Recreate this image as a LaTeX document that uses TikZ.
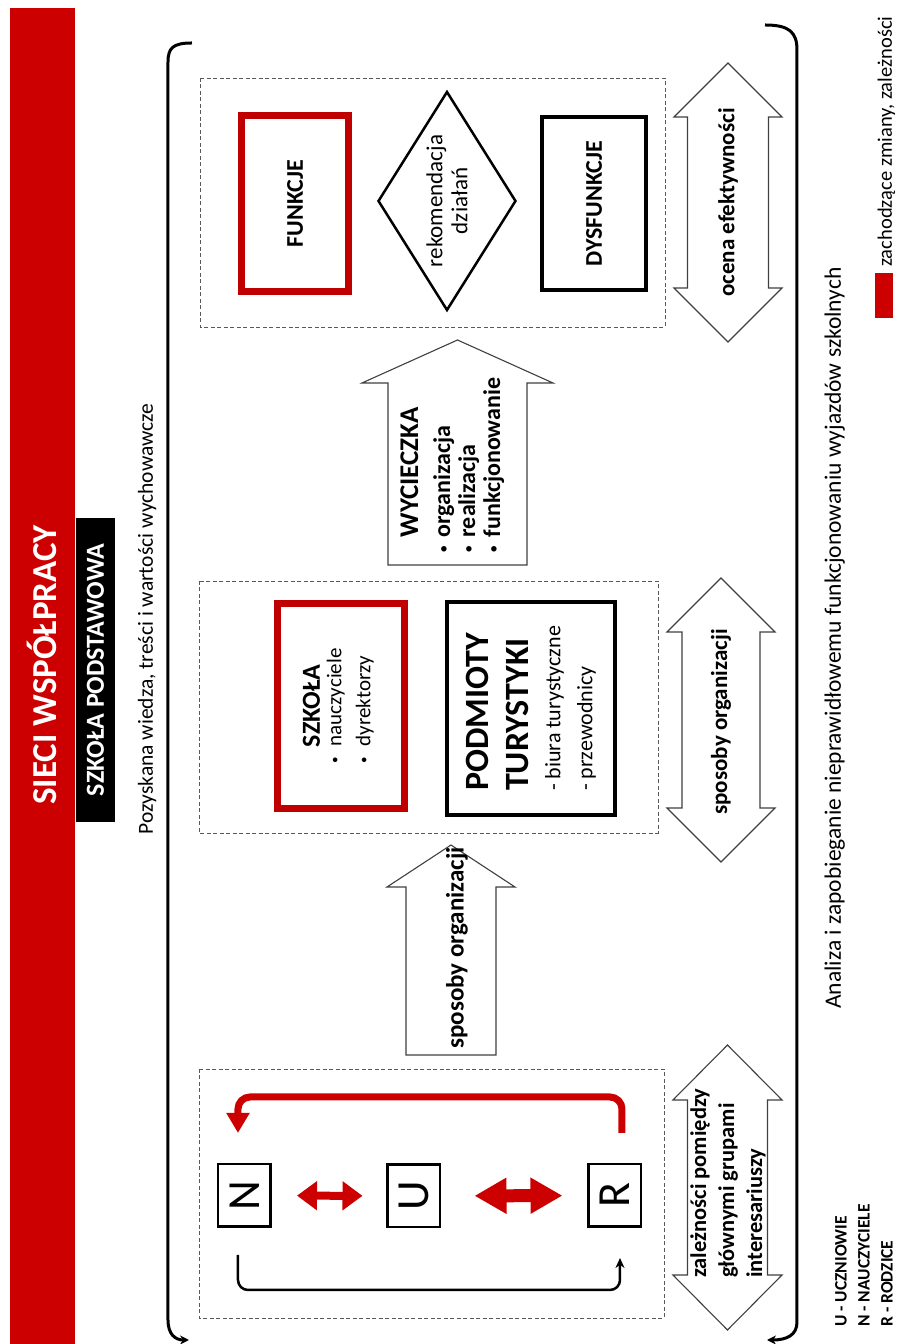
\documentclass[tikz,border=0pt]{standalone}
\usepackage{fontspec}
\setmainfont{Carlito}
\usetikzlibrary{shapes.geometric,arrows.meta}

\definecolor{tred}{RGB}{204,0,0}
\definecolor{dred}{RGB}{192,0,0}

\newcommand{\dotitem}{\raisebox{2.5pt}{\fontsize{13}{13}\selectfont\textbullet}}

\tikzset{
  groupbox/.style={draw=black!65, line width=0.9pt, dash pattern=on 4pt off 2.5pt, inner sep=0},
  redbox/.style={draw=dred, line width=7pt, inner sep=0, align=center},
  blackbox/.style={draw=black, line width=4pt, inner sep=0, align=center},
  letterbox/.style={draw=black, line width=2.5pt, minimum width=62.5, minimum height=52.5, inner sep=0, font=\fontsize{46}{46}\selectfont},
  hollowarrow/.style={draw=black!75, line width=1.1pt, fill=white, line join=miter},
  arrowtext/.style={inner sep=0, font=\fontsize{23}{28}\selectfont\bfseries},
  brace/.style={line width=3pt, -{Stealth[length=9pt,width=9pt]}},
}

\begin{document}
\begin{tikzpicture}[x=1pt, y=1pt, rotate=90, transform shape]
  \useasboundingbox (0,0) rectangle (1344,897);

  % title
  \node[fill=tred, minimum width=1336, minimum height=65, inner sep=0] (bar) at (668,854.5) {};
  \node[text=white, inner sep=0, font=\fontsize{35}{35}\selectfont\bfseries] (title) at (679,855) {SIECI WSPÓŁPRACY};
  \node[fill=black, text=white, minimum width=304, minimum height=39, inner sep=0,
        font=\fontsize{26}{26}\selectfont\bfseries] (school) at (674,801.5) {SZKOŁA PODSTAWOWA};
  \node[anchor=base, inner sep=0, font=\fontsize{21.5}{21.5}\selectfont] (gained) at (725,744)
    {Pozyskana wiedza, treści i wartości wychowawcze};

  % brackets
  \draw[brace] (1301,705) .. controls (1301,724) and (1296,729) .. (1282,729) -- (24,729)
    .. controls (10,729) and (4,722) .. (4,708);
  \draw[brace] (1319,132) .. controls (1319,108) and (1312,100) .. (1294,100) -- (22,100)
    .. controls (9,100) and (4,110) .. (4,130);

  % groups
  \node[groupbox, minimum width=249, minimum height=465] (gRight) at (1141.5,464.5) {};
  \node[groupbox, minimum width=252, minimum height=459] (gMid) at (637,468.5) {};
  \node[groupbox, minimum width=249, minimum height=465] (gLeft) at (150.5,465.5) {};

  % right group
  \node[redbox, minimum width=176, minimum height=107, font=\fontsize{24}{24}\selectfont\bfseries]
    (funkcje) at (1140.5,602) {FUNKCJE};
  \node[diamond, draw, line width=2.5pt, minimum width=219, minimum height=138, aspect=1.57,
        inner sep=0, align=center, font=\fontsize{23}{25}\selectfont] (advice) at (1143,450)
    {rekomendacja\\działań};
  \node[blackbox, minimum width=173, minimum height=104, font=\fontsize{24}{24}\selectfont\bfseries]
    (dysfunkcje) at (1140.5,303) {DYSFUNKCJE};
  \draw[hollowarrow] (1002,169) -- (1056,223) -- (1056,209.5) -- (1227,209.5) -- (1227,223)
    -- (1281,169) -- (1227,115) -- (1227,128.5) -- (1056,128.5) -- (1056,115) -- cycle;
  \node[arrowtext] (evalText) at (1141.5,169) {ocena efektywności};

  % trip arrow
  \draw[hollowarrow] (779,370) -- (961,370) -- (961,344) -- (1004,439.5) -- (961,535)
    -- (961,509) -- (779,509) -- cycle;
  \node[anchor=west, inner sep=0, font=\fontsize{24}{25}\selectfont\bfseries] (tripText) at (791,443)
    {\begin{tabular}{@{}l@{\hspace{9pt}}l@{}}
      & {\fontsize{27}{25}\selectfont WYCIECZKA}\\[7pt]
      \dotitem & organizacja\\
      \dotitem & realizacja\\
      \dotitem & funkcjonowanie
     \end{tabular}};

  % middle group
  \node[redbox, minimum width=205, minimum height=127, font=\fontsize{21}{29}\selectfont]
    (szkola) at (638,556)
    {{\fontsize{26}{29}\selectfont\bfseries SZKOŁA}\\
     \begin{tabular}{@{}l@{\hspace{11pt}}l@{}}
      \dotitem & nauczyciele\\
      \dotitem & dyrektorzy
     \end{tabular}};
  \node[blackbox, minimum width=213, minimum height=168, align=left, font=\fontsize{22}{32}\selectfont]
    (podmioty) at (635.5,366)
    {{\fontsize{34}{40}\selectfont\bfseries PODMIOTY}\\[8pt]
     {\fontsize{34}{40}\selectfont\bfseries TURYSTYKI}\\
     - biura turystyczne\\
     - przewodnicy};
  \draw[hollowarrow] (482,176) -- (536,230) -- (536,215) -- (712,215) -- (712,230)
    -- (766,176) -- (712,122) -- (712,137) -- (536,137) -- (536,122) -- cycle;
  \node[arrowtext] (midText) at (622,176) {sposoby organizacji};

  % organisation arrow
  \draw[hollowarrow] (289,401) -- (457,401) -- (457,382) -- (499,446) -- (457,510)
    -- (457,491) -- (289,491) -- cycle;
  \node[arrowtext, font=\fontsize{25}{28}\selectfont\bfseries] (orgText) at (396,440) {sposoby organizacji};

  % left group
  \node[letterbox] (N) at (148.5,652.5) {N};
  \node[letterbox] (U) at (148,483) {U};
  \node[letterbox] (R) at (148.5,282) {R};

  \draw[tred, line width=8pt, {Triangle[length=20pt,width=28pt]}-{Triangle[length=20pt,width=28pt]},
        shorten <=24pt, shorten >=25pt] (U) -- (N);
  \draw[tred, line width=13pt, {Triangle[length=32pt,width=34pt]}-{Triangle[length=32pt,width=34pt]},
        shorten <=25pt, shorten >=33pt] (R) -- (U);
  \draw[tred, line width=7pt, rounded corners=12pt, -{Triangle[length=20pt,width=22pt]}]
    ([shift={(30,-7)}]R.east) -- ++(36,0) |- ([shift={(30,6.5)}]N.east);
  \draw[line width=2.5pt, rounded corners=10pt, -{Stealth[length=10pt,width=9pt]}]
    ([shift={(-27,6.5)}]N.west) -- ++(-35,0) |- ([shift={(-30,-5)}]R.west);

  \draw[hollowarrow] (14,169.5) -- (69,224) -- (69,209.5) -- (244,209.5) -- (244,224)
    -- (299,169.5) -- (244,115) -- (244,129.5) -- (69,129.5) -- (69,115) -- cycle;
  \node[arrowtext, font=\fontsize{22.5}{28}\selectfont\bfseries, anchor=west, align=left] (relText) at (66,169)
    {zależności pomiędzy\\głównymi grupami\\interesariuszy};

  % bottom line and legend
  \node[anchor=base, inner sep=0, font=\fontsize{23.5}{23.5}\selectfont] (analysis) at (706,56)
    {Analiza i zapobieganie nieprawidłowemu funkcjonowaniu wyjazdów szkolnych};
  \node[anchor=west, align=left, inner sep=0, font=\fontsize{17.5}{23}\selectfont\bfseries] (legend) at (17,33)
    {U - UCZNIOWIE\\N - NAUCZYCIELE\\R - RODZICE};
  \node[fill=tred, minimum width=45, minimum height=18, inner sep=0] (key) at (1048.5,13) {};
  \node[anchor=base west, inner sep=0, font=\fontsize{20.5}{20.5}\selectfont] (keyText) at (1077,5)
    {zachodzące zmiany, zależności};
\end{tikzpicture}
\end{document}
